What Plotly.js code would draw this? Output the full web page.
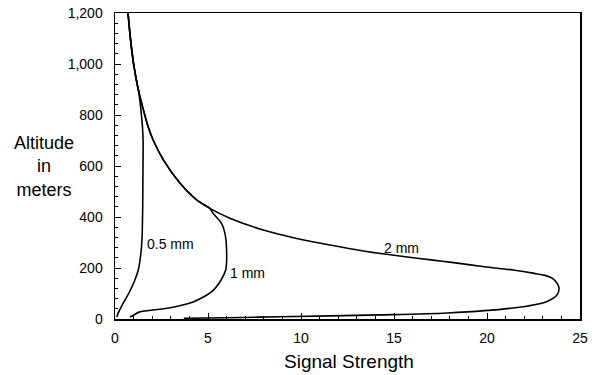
<!DOCTYPE html>
<html>
<head>
<meta charset="utf-8">
<script src="https://cdn.plot.ly/plotly-3.0.1.min.js"></script>
<style>html,body{margin:0;padding:0;background:#fff;}#chart{width:597px;height:375px;}</style>
</head>
<body>
<div id="chart"></div>
<script>
// Altitude (m) and signal strength for each drop size
const alt2mm = [3, 5, 9, 16, 23.5, 43, 68, 94, 122, 141, 160, 172, 179, 192, 205, 222, 231, 247, 267, 290, 316, 349, 395, 434, 467, 532, 624, 702, 750, 800, 900, 1000, 1100, 1200];
const sig2mm = [3.7, 6.0, 8.9, 14.25, 17.85, 21.4, 23.2, 23.76, 23.87, 23.76, 23.5, 23.05, 22.55, 21.4, 19.85, 18.1, 17.1, 15.3, 13.35, 11.56, 9.77, 7.97, 6.18, 5.1, 4.39, 3.5, 2.6, 2.05, 1.8, 1.6, 1.25, 1.0, 0.83, 0.70];

const alt1mm = [8, 15, 27, 43, 67, 86, 110, 141, 192, 270, 336, 375, 415, 434, 467, 532, 624, 702, 750, 800, 900, 1000, 1100, 1200];
const sig1mm = [0.8, 1.0, 1.3, 2.9, 4.2, 4.75, 5.25, 5.6, 5.95, 6.0, 5.91, 5.73, 5.27, 5.1, 4.39, 3.5, 2.6, 2.05, 1.8, 1.6, 1.25, 1.0, 0.83, 0.70];

const alt05mm = [8, 20, 43, 70, 102, 153, 192, 250, 310, 441, 550, 702, 750, 800, 850, 890, 900, 1000, 1100, 1200];
const sig05mm = [0.1, 0.15, 0.3, 0.5, 0.75, 1.07, 1.25, 1.38, 1.45, 1.49, 1.5, 1.51, 1.48, 1.42, 1.35, 1.28, 1.25, 1.0, 0.83, 0.70];

const seriesNames = ["2 mm", "1 mm", "0.5 mm"];
const labelX = [15.4, 7.15, 3.0];
const labelY = [278, 180, 294];

const lineStyle = {color: "#000", width: 1.6, shape: "spline", smoothing: 0.8};
const traces = [
  {x: sig2mm, y: alt2mm, name: seriesNames[0], mode: "lines", line: lineStyle, hoverinfo: "skip"},
  {x: sig1mm, y: alt1mm, name: seriesNames[1], mode: "lines", line: lineStyle, hoverinfo: "skip"},
  {x: sig05mm, y: alt05mm, name: seriesNames[2], mode: "lines", line: lineStyle, hoverinfo: "skip"}
];

const fontFam = "Liberation Sans, Arial, Helvetica, sans-serif";
const annotations = seriesNames.map((t, i) => ({
  x: labelX[i], y: labelY[i], xref: "x", yref: "y", text: t, showarrow: false,
  xanchor: "center", yanchor: "middle",
  font: {family: fontFam, size: 14, color: "#000"}
}));
annotations.push({
  xref: "paper", yref: "paper", x: -0.152, y: 0.5, xanchor: "center", yanchor: "middle",
  text: "Altitude<br>in<br>meters",
  showarrow: false, align: "center", font: {family: fontFam, size: 18, color: "#000"}
});
annotations.push({
  xref: "paper", yref: "paper", x: 0.503, y: -0.1405, xanchor: "center", yanchor: "middle",
  text: "Signal Strength",
  showarrow: false, font: {family: fontFam, size: 19, color: "#000"}
});

const layout = {
  width: 597, height: 375,
  margin: {l: 115, r: 17, t: 13, b: 56},
  paper_bgcolor: "#fff", plot_bgcolor: "#fff",
  showlegend: false,
  font: {family: fontFam, color: "#000"},
  xaxis: {
    range: [0, 25], dtick: 5, tick0: 0, ticks: "inside", ticklen: 6, tickwidth: 1, tickcolor: "#000",
    minor: {dtick: 1, ticks: "inside", ticklen: 3, tickcolor: "#000"},
    showline: true, linecolor: "#000", linewidth: 1.5, mirror: true,
    showgrid: false, zeroline: false, ticklabelstandoff: 6,
    tickfont: {family: fontFam, size: 14, color: "#000"}
  },
  yaxis: {
    range: [0, 1200], dtick: 200, tick0: 0, tickformat: ",", ticks: "inside", ticklen: 6, tickwidth: 1, tickcolor: "#000",
    minor: {dtick: 40, ticks: "inside", ticklen: 3, tickcolor: "#000"},
    showline: true, linecolor: "#000", linewidth: 1.5, mirror: true,
    showgrid: false, zeroline: false, ticklabelstandoff: 8,
    tickfont: {family: fontFam, size: 14, color: "#000"}
  },
  annotations: annotations
};

Plotly.newPlot("chart", traces, layout, {displayModeBar: false, staticPlot: true});
</script>
</body>
</html>
